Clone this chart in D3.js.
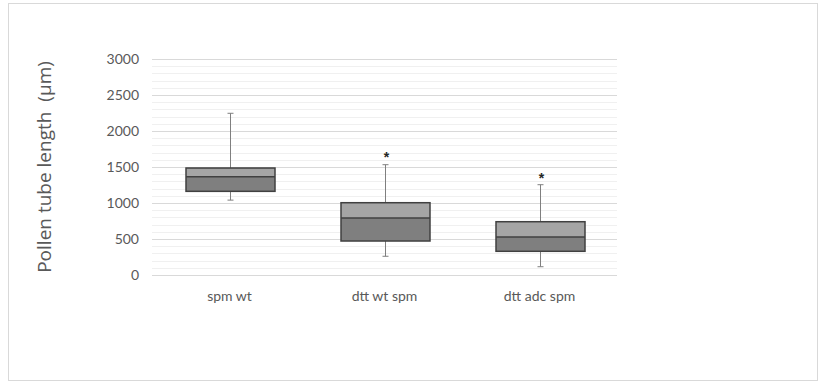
<!DOCTYPE html>
<html><head><meta charset="utf-8">
<script src="https://cdn.jsdelivr.net/npm/d3@7"></script>
<style>body{margin:0;background:#fff;}svg{display:block;font-family:Lato,"Open Sans",sans-serif;}</style>
</head><body>
<script>
const categories = ["spm wt", "dtt wt spm", "dtt adc spm"];
const whiskerMin = [1040, 260, 115];
const q1 = [1162, 472, 329];
const median = [1365, 792, 528];
const q3 = [1486, 1004, 740];
const whiskerMax = [2246, 1532, 1254];
const signifLabel = ["", "*", "*"];
const signifValue = [null, 1700, 1420];
const yTicks = [0, 500, 1000, 1500, 2000, 2500, 3000];
const yMinorStep = 100;
const yTitle = "Pollen tube length  (µm)";

const W = 825, H = 383;
const svg = d3.select("body").append("svg").attr("width", W).attr("height", H);
svg.append("rect").attr("x", 8.5).attr("y", 3.5).attr("width", 809).attr("height", 377)
  .attr("fill", "#fff").attr("stroke", "#d9d9d9");

const x0 = 152, x1 = 617, yTop = 59, yBot = 275;
const x = d3.scaleBand().domain(categories).range([x0, x1]);
const y = d3.scaleLinear().domain([0, 3000]).range([yBot, yTop]);

const minor = d3.range(0, 3001, yMinorStep).filter(v => v % 500 !== 0);
svg.append("g").selectAll("line").data(minor).join("line")
  .attr("x1", x0).attr("x2", x1).attr("y1", d => Math.round(y(d)) + 0.5).attr("y2", d => Math.round(y(d)) + 0.5)
  .attr("stroke", "#f0f0f0").attr("stroke-width", 1);
svg.append("g").selectAll("line").data(yTicks).join("line")
  .attr("x1", x0).attr("x2", x1).attr("y1", d => Math.round(y(d)) + 0.5).attr("y2", d => Math.round(y(d)) + 0.5)
  .attr("stroke", "#d9d9d9").attr("stroke-width", 1);

const yAxis = d3.axisLeft(y).tickValues(yTicks).tickFormat(d3.format("d")).tickSize(0).tickPadding(0);
const gy = svg.append("g").attr("transform", `translate(${x0 - 13},0)`).call(yAxis);
gy.select(".domain").remove();
gy.selectAll("text").attr("fill", "#595959").style("font-size", "14px").style("font-family", "Lato,sans-serif").attr("dy", "0.35em");

const xAxis = d3.axisBottom(x).tickSize(0).tickPadding(0);
const gx = svg.append("g").attr("transform", `translate(0,${yBot + 16})`).call(xAxis);
gx.select(".domain").remove();
gx.selectAll("text").attr("fill", "#595959").style("font-size", "14px").style("font-family", "Lato,sans-serif").attr("dy", "0.71em");

svg.append("text").attr("transform", `translate(51,${(yTop + yBot) / 2}) rotate(-90)`)
  .attr("text-anchor", "middle").attr("fill", "#595959").style("font-size", "19px")
  .style("white-space", "pre")
  .style("font-family", "'Open Sans',sans-serif").text(yTitle);

const boxW = 89;
const g = svg.append("g");
categories.forEach((c, i) => {
  const cx = Math.round(x(c) + x.bandwidth() / 2) + 0.5;
  g.append("line").attr("x1", cx).attr("x2", cx).attr("y1", y(whiskerMax[i])).attr("y2", y(q3[i])).attr("stroke", "#7f7f7f");
  g.append("line").attr("x1", cx).attr("x2", cx).attr("y1", y(q1[i])).attr("y2", y(whiskerMin[i])).attr("stroke", "#7f7f7f");
  [whiskerMax[i], whiskerMin[i]].forEach(v => {
    g.append("line").attr("x1", cx - 3).attr("x2", cx + 3).attr("y1", y(v)).attr("y2", y(v)).attr("stroke", "#7f7f7f");
  });
  g.append("rect").attr("x", cx - boxW / 2).attr("width", boxW).attr("y", y(q3[i])).attr("height", y(median[i]) - y(q3[i]))
    .attr("fill", "#a5a5a5");
  g.append("rect").attr("x", cx - boxW / 2).attr("width", boxW).attr("y", y(median[i])).attr("height", y(q1[i]) - y(median[i]))
    .attr("fill", "#7f7f7f");
  g.append("rect").attr("x", cx - boxW / 2).attr("width", boxW).attr("y", y(q3[i])).attr("height", y(q1[i]) - y(q3[i]))
    .attr("fill", "none").attr("stroke", "#404040").attr("stroke-width", 1.5);
  g.append("line").attr("x1", cx - boxW / 2).attr("x2", cx + boxW / 2).attr("y1", y(median[i])).attr("y2", y(median[i]))
    .attr("stroke", "#404040").attr("stroke-width", 1.5);
  if (signifLabel[i]) {
    g.append("text").attr("x", cx + 1).attr("y", y(signifValue[i])).attr("text-anchor", "middle")
      .attr("dy", "0.7em").attr("fill", "#262626").style("font-size", "14px").style("font-weight", "bold")
      .style("font-family", "'Liberation Sans',sans-serif").text(signifLabel[i]);
  }
});
</script>
</body></html>
